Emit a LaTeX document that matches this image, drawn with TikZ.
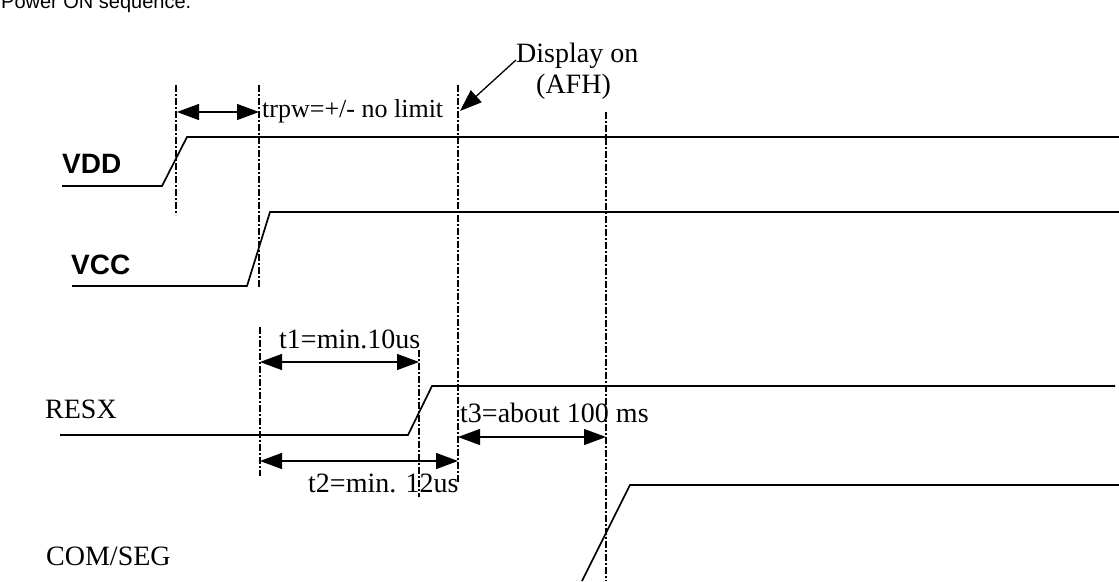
\documentclass[tikz,border=0pt]{standalone}
\usepackage{fontspec}
\setmainfont{Liberation Serif}
\newfontfamily\arialfont{Liberation Sans}
\usetikzlibrary{arrows.meta}
\begin{document}
\begin{tikzpicture}[x=1pt,y=-1pt,
  signal/.style={line width=1.7pt, line join=miter},
  guide/.style={line width=1.1pt, dash pattern=on 7pt off 2pt on 2pt off 2pt},
  dim/.style={line width=1.3pt, {Triangle[length=22pt,width=16pt]}-{Triangle[length=22pt,width=16pt]}},
  lbl/.style={font=\fontsize{28}{30}\selectfont, inner sep=0pt},
  small/.style={font=\fontsize{26}{28}\selectfont, inner sep=0pt},
  sig/.style={font=\arialfont\bfseries\fontsize{28}{30}\selectfont, inner sep=0pt},
  ttl/.style={font=\arialfont\fontsize{20}{22}\selectfont, inner sep=0pt}]
\useasboundingbox (0,0) rectangle (1119,581);
\clip (0,0) rectangle (1119,581);

% title (cut at top edge, as in the reference)
\node[ttl, anchor=base west] (title) at (1,8) {Power ON sequence.};

% guide lines
\coordinate (g1t) at (176,85);  \coordinate (g1b) at (176,215);
\coordinate (g2t) at (259,85);  \coordinate (g2b) at (259,287);
\coordinate (g3t) at (260,327); \coordinate (g3b) at (260,476);
\coordinate (g4t) at (419,350); \coordinate (g4b) at (419,497);
\coordinate (g5t) at (458,85);  \coordinate (g5b) at (458,482);
\coordinate (g6t) at (606,112); \coordinate (g6b) at (606,581);
\draw[guide] (g1t) -- (g1b);
\draw[guide] (g2t) -- (g2b);
\draw[guide] (g3t) -- (g3b);
\draw[guide] (g4t) -- (g4b);
\draw[guide] (g5t) -- (g5b);
\draw[guide] (g6t) -- (g6b);

% signals
\draw[signal] (62,186) -- (162,186) -- (187,137) -- (1119,137);
\draw[signal] (72,286) -- (247,286) -- (270,212) -- (1119,212);
\draw[signal] (60,435) -- (408,435) -- (432,386) -- (1115,386);
\draw[signal] (582,581) -- (630,485) -- (1119,485);

% signal labels
\node[sig, anchor=base west] (vdd) at (62,173) {VDD};
\node[sig, anchor=base west] (vcc) at (71,274) {VCC};
\node[lbl, anchor=base west] (resx) at (45,418) {RESX};
\node[lbl, anchor=base west] (comseg) at (46,565) {COM/SEG};

% dimension arrows
\coordinate (pwL) at (177,112); \coordinate (pwR) at (259,112);
\draw[dim] (pwL) -- (pwR);
\node[small, anchor=base west] (tpw) at (262,117) {trpw=+/- no limit};

\coordinate (t1L) at (260,362); \coordinate (t1R) at (419,362);
\draw[dim] (t1L) -- (t1R);
\node[lbl, anchor=base west] (t1) at (279,348) {t1=min.10us};

\coordinate (t2L) at (260,461); \coordinate (t2R) at (458,461);
\draw[dim] (t2L) -- (t2R);
\node[lbl, anchor=base west] (t2) at (308,492) {t2=min. 12us};

\coordinate (t3L) at (458,437); \coordinate (t3R) at (606,437);
\draw[dim] (t3L) -- (t3R);
\node[lbl, anchor=base west] (t3) at (460,422) {t3=about 100 ms};

% display on annotation
\node[lbl, anchor=base west] (disp) at (516,62) {Display on};
\node[lbl, anchor=base west] (afh) at (536,93) {(AFH)};
\coordinate (dispTail) at (516,60);
\coordinate (dispTip) at (460,111);
\draw[line width=1.3pt, -{Triangle[length=22pt,width=16pt]}] (dispTail) -- (dispTip);
\end{tikzpicture}
\end{document}
